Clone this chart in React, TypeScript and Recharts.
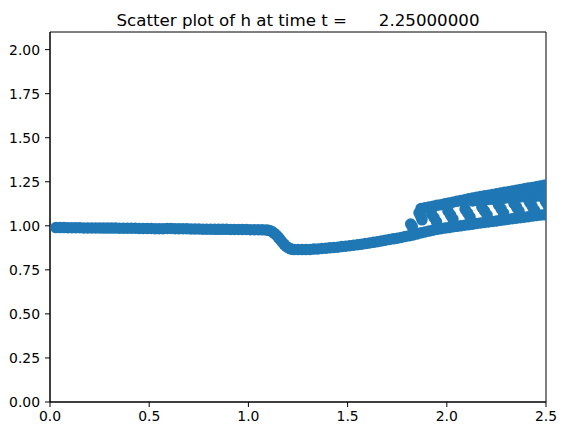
import React from 'react';
import { ScatterChart, Scatter, XAxis, YAxis, ReferenceArea } from 'recharts';

const xTicks = [0, 0.5, 1.0, 1.5, 2.0, 2.5];
const yTicks = [0, 0.25, 0.5, 0.75, 1.0, 1.25, 1.5, 1.75, 2.0];
const titleText = 'Scatter plot of h at time t =      2.25000000';

// main (lower) band of h
const mainBand: [number, number][] = [
  [0.03, 0.990], [0.05, 0.990], [0.07, 0.990], [0.09, 0.989], [0.11, 0.989], [0.13, 0.989],
  [0.15, 0.989], [0.17, 0.988], [0.19, 0.988], [0.21, 0.988], [0.23, 0.988], [0.25, 0.988],
  [0.27, 0.987], [0.29, 0.987], [0.31, 0.987], [0.33, 0.987], [0.35, 0.986], [0.37, 0.986],
  [0.39, 0.986], [0.41, 0.986], [0.43, 0.986], [0.45, 0.985], [0.47, 0.985], [0.49, 0.985],
  [0.51, 0.985], [0.53, 0.984], [0.55, 0.984], [0.57, 0.984], [0.59, 0.985], [0.61, 0.985],
  [0.63, 0.984], [0.65, 0.983], [0.67, 0.983], [0.69, 0.983], [0.71, 0.982], [0.73, 0.982],
  [0.75, 0.982], [0.77, 0.981], [0.79, 0.981], [0.81, 0.981], [0.83, 0.980], [0.85, 0.980],
  [0.87, 0.980], [0.89, 0.980], [0.91, 0.979], [0.93, 0.979], [0.95, 0.979], [0.97, 0.979],
  [0.99, 0.979], [1.01, 0.978], [1.03, 0.978], [1.05, 0.978], [1.07, 0.977], [1.09, 0.976],
  [1.10, 0.975], [1.11, 0.972], [1.12, 0.966], [1.13, 0.958], [1.14, 0.948], [1.15, 0.936],
  [1.16, 0.922], [1.17, 0.908], [1.18, 0.895], [1.19, 0.884], [1.20, 0.876], [1.21, 0.870],
  [1.22, 0.867], [1.23, 0.866], [1.25, 0.866], [1.27, 0.865], [1.29, 0.866], [1.31, 0.866],
  [1.33, 0.868], [1.35, 0.869], [1.37, 0.871], [1.39, 0.873], [1.41, 0.875], [1.43, 0.877],
  [1.45, 0.879], [1.47, 0.882], [1.49, 0.884], [1.51, 0.887], [1.53, 0.890], [1.55, 0.893],
  [1.57, 0.896], [1.59, 0.899], [1.61, 0.903], [1.63, 0.906], [1.65, 0.910], [1.67, 0.914],
  [1.69, 0.918], [1.71, 0.922], [1.73, 0.926], [1.75, 0.930], [1.77, 0.934], [1.79, 0.939],
  [1.81, 0.943], [1.83, 0.948], [1.85, 0.954], [1.87, 0.960], [1.89, 0.965], [1.91, 0.970],
  [1.93, 0.975], [1.95, 0.980], [1.97, 0.984], [1.99, 0.987], [2.01, 0.990], [2.03, 0.994],
  [2.05, 0.997], [2.07, 1.000], [2.09, 1.003], [2.11, 1.006], [2.13, 1.009], [2.15, 1.013],
  [2.17, 1.016], [2.19, 1.019], [2.21, 1.022], [2.23, 1.025], [2.25, 1.028], [2.27, 1.031],
  [2.29, 1.034], [2.31, 1.037], [2.33, 1.040], [2.35, 1.043], [2.37, 1.046], [2.39, 1.049],
  [2.41, 1.052], [2.43, 1.055], [2.45, 1.058], [2.47, 1.061], [2.49, 1.063], [2.51, 1.066],
];

// upper branch behind the shock, top row
const upperTop: [number, number][] = [
  [1.87, 1.098], [1.89, 1.102], [1.91, 1.107], [1.93, 1.111], [1.95, 1.116], [1.97, 1.120],
  [1.99, 1.125], [2.01, 1.130], [2.03, 1.134], [2.05, 1.139], [2.07, 1.144], [2.09, 1.148],
  [2.11, 1.153], [2.13, 1.158], [2.15, 1.162], [2.17, 1.166], [2.19, 1.170], [2.21, 1.174],
  [2.23, 1.178], [2.25, 1.182], [2.27, 1.186], [2.29, 1.190], [2.31, 1.194], [2.33, 1.198],
  [2.35, 1.202], [2.37, 1.206], [2.39, 1.210], [2.41, 1.214], [2.43, 1.218], [2.45, 1.222],
  [2.47, 1.226], [2.49, 1.230], [2.51, 1.234],
];

// upper branch, inner row
const upperInner: [number, number][] = [
  [2.13, 1.141], [2.15, 1.143], [2.17, 1.145], [2.19, 1.147], [2.21, 1.149], [2.23, 1.151],
  [2.25, 1.153], [2.27, 1.155], [2.29, 1.157], [2.31, 1.159], [2.33, 1.161], [2.35, 1.163],
  [2.37, 1.164], [2.39, 1.165], [2.41, 1.167], [2.43, 1.168], [2.45, 1.168], [2.47, 1.169],
  [2.49, 1.170], [2.51, 1.170],
];

// slanted links between the two branches
const links: [number, number][] = [
  [1.818, 1.010], [1.826, 0.995],
  [1.860, 1.074], [1.868, 1.054], [1.875, 1.034],
  [1.923, 1.068], [1.936, 1.046], [1.948, 1.023],
  [2.006, 1.084], [2.019, 1.061], [2.031, 1.038],
  [2.092, 1.095], [2.105, 1.073], [2.117, 1.050],
  [2.177, 1.106], [2.190, 1.084], [2.203, 1.061],
  [2.261, 1.118], [2.274, 1.096], [2.286, 1.073],
  [2.339, 1.127], [2.352, 1.105], [2.364, 1.082],
  [2.417, 1.134], [2.430, 1.111], [2.442, 1.088],
  [2.497, 1.139], [2.509, 1.117], [2.520, 1.094],
];

const COLOR = '#1f77b4';
const R = 5.75;
const FONT = 'DejaVu Sans';

const toPts = (arr: [number, number][]) => arr.map(([x, y]) => ({ x, y }));

const Dot = (props: any) => {
  const { cx, cy } = props;
  if (cx == null || cy == null) return null;
  return <circle cx={cx} cy={cy} r={R} fill={COLOR} />;
};

const series = [mainBand, upperTop, upperInner, links];

export default function App() {
  return (
    <div style={{ position: 'absolute', left: 0, top: 0, width: 567, height: 435, background: '#fff' }}>
      <ScatterChart width={567} height={435} margin={{ top: 32, right: 21, bottom: 0, left: 0 }}>
        <XAxis
          type="number"
          dataKey="x"
          domain={[0, 2.5]}
          ticks={xTicks}
          allowDataOverflow
          height={33}
          tickSize={5}
          tickMargin={4}
          tickFormatter={(v: number) => v.toFixed(1)}
          stroke="#000"
          tick={{ fill: '#000', fontSize: 13.9, fontFamily: FONT }}
          axisLine={{ stroke: '#000' }}
          tickLine={{ stroke: '#000' }}
        />
        <YAxis
          type="number"
          dataKey="y"
          domain={[0, 2.1]}
          ticks={yTicks}
          allowDataOverflow
          width={50}
          tickSize={5}
          tickMargin={5}
          tickFormatter={(v: number) => v.toFixed(2)}
          stroke="#000"
          tick={{ fill: '#000', fontSize: 13.9, fontFamily: FONT }}
          axisLine={{ stroke: '#000' }}
          tickLine={{ stroke: '#000' }}
        />
        {series.map((s, i) => (
          <Scatter key={i} data={toPts(s)} fill={COLOR} shape={Dot} isAnimationActive={false} />
        ))}
        <ReferenceArea x1={0} x2={2.5} y1={0} y2={2.1} fill="none" stroke="#000" strokeWidth={1} ifOverflow="visible" />
      </ScatterChart>
      <svg width={567} height={40} style={{ position: 'absolute', left: 0, top: 0 }}>
        <text
          x={298}
          y={25.5}
          textAnchor="middle"
          xmlSpace="preserve"
          style={{ whiteSpace: 'pre' }}
          fontFamily={FONT}
          fontSize={16.67}
          fill="#000"
        >
          {titleText}
        </text>
      </svg>
    </div>
  );
}
